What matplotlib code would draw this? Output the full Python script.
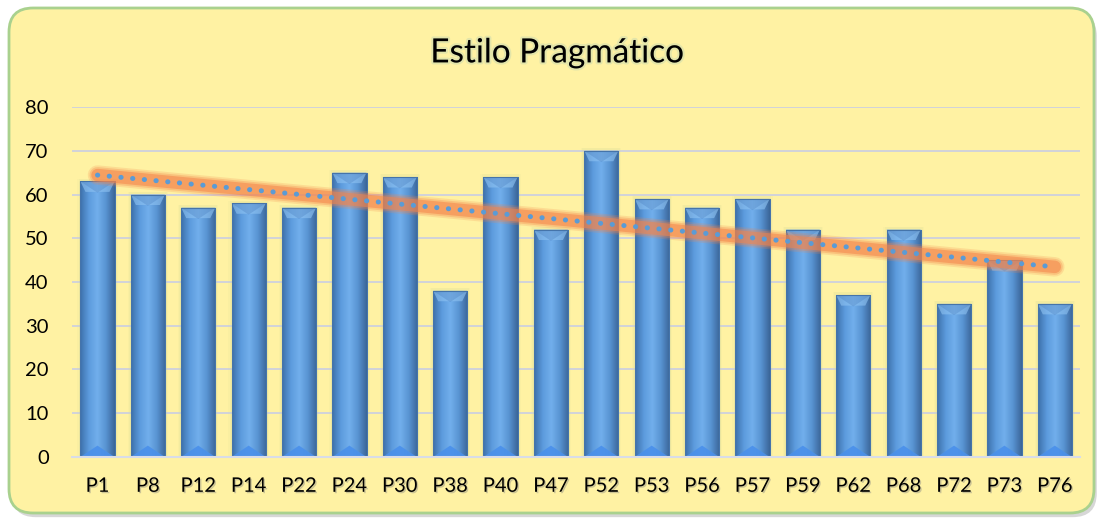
import numpy as np
import matplotlib.pyplot as plt
from matplotlib.patches import FancyBboxPatch
from matplotlib.colors import LinearSegmentedColormap
import matplotlib.patheffects as pe

categories = ['P1', 'P8', 'P12', 'P14', 'P22', 'P24', 'P30', 'P38', 'P40', 'P47',
              'P52', 'P53', 'P56', 'P57', 'P59', 'P62', 'P68', 'P72', 'P73', 'P76']
values = [63, 60, 57, 58, 57, 65, 64, 38, 64, 52,
          70, 59, 57, 59, 52, 37, 52, 35, 45, 35]
yticks = [0, 10, 20, 30, 40, 50, 60, 70, 80]
title = 'Estilo Pragmático'

bg = '#fff2a3'
plt.rcParams['font.family'] = ['Lato', 'DejaVu Sans']

fig = plt.figure(figsize=(10.97, 5.18), dpi=100)
fig.patch.set_facecolor('white')

# rounded frame on a background axes in pixel units
bgax = fig.add_axes([0, 0, 1, 1], zorder=-1)
bgax.set_xlim(0, 1097)
bgax.set_ylim(0, 518)
bgax.axis('off')
frame = FancyBboxPatch((9, 5), 1085, 505, boxstyle='round,pad=0,rounding_size=24',
                       facecolor=bg, edgecolor='#a9d18e', linewidth=2)
frame.set_path_effects([pe.SimplePatchShadow(offset=(2, -3), shadow_rgbFace='#b0b0b0', alpha=0.5), pe.Normal()])
bgax.add_patch(frame)

ax = fig.add_axes([0.0659, 0.1178, 0.9186, 0.6756])
ax.set_facecolor('none')

x = np.arange(len(categories))
# soft glow behind bars
for gw, ga in [(0.80, 0.12), (0.75, 0.18)]:
    ax.bar(x, np.array(values) + 0.6, width=gw, color='#d8dc9a', alpha=ga, zorder=2, lw=0)
bars = ax.bar(x, values, width=0.68, color='#4f8bd0', zorder=3)

# horizontal gradient on each bar
cmap = LinearSegmentedColormap.from_list('barg', ['#3d71ab', '#5c9bdd', '#72afec', '#5893d2', '#3b6699'])
grad = np.linspace(0, 1, 64).reshape(1, -1)
for b in bars:
    x0, w, h = b.get_x(), b.get_width(), b.get_height()
    im = ax.imshow(grad, cmap=cmap, aspect='auto', extent=(x0, x0 + w, 0, h), zorder=4)
    im.set_clip_path(b)
    # bevel top
    ax.fill([x0, x0 + w, x0 + w * 0.85, x0 + w * 0.15], [h, h, h - 2.4, h - 2.4], color='#8fc3f2', alpha=0.6, zorder=5, lw=0)
    ax.fill([x0, x0 + w, x0 + w / 2], [h, h, h - 2.6], color='#4a7fbf', alpha=0.35, zorder=5, lw=0)
    ax.fill([x0, x0 + w, x0 + w / 2], [0, 0, 2.6], color='#4a90ea', alpha=0.9, zorder=5, lw=0)
    ax.plot([x0, x0 + w, x0 + w, x0, x0], [0, 0, h, h, 0], color='#4574aa', lw=0.8, zorder=6)

# linear trend line
coef = np.polyfit(x, values, 1)
trend = np.polyval(coef, x)
for lw, a in [(14, 0.2), (11.5, 0.3), (9, 0.55)]:
    ax.plot(x, trend, color='#f4844a', lw=lw, alpha=a, solid_capstyle='round', zorder=7)
ax.plot(x, trend, color='#5b9bd5', lw=3.6, linestyle=(0, (0.05, 2.3)), dash_capstyle='round', zorder=8)

ax.set_xlim(-0.5, len(categories) - 0.5)
ax.set_ylim(0, 80)
ax.set_yticks(yticks)
ax.set_xticks(x)
ax.set_xticklabels(categories)
ax.yaxis.grid(True, color='#c9cde3', lw=1.2, zorder=1)
ax.set_axisbelow(True)
for s in ['top', 'right', 'left']:
    ax.spines[s].set_visible(False)
ax.spines['bottom'].set_color('#d8dce8')
ax.spines['bottom'].set_linewidth(1.5)
ax.spines['bottom'].set_zorder(9)
ax.tick_params(length=0, labelsize=14.5, colors='black')
ax.tick_params(axis='x', pad=15)
ax.tick_params(axis='y', pad=17)
for lab in ax.get_xticklabels():
    lab.set_path_effects([pe.withSimplePatchShadow(offset=(1, -1), shadow_rgbFace='#808080', alpha=0.4)])

t = fig.text(0.508, 0.897, title, ha='center', va='center', fontsize=24, color='black')
t.set_path_effects([pe.withStroke(linewidth=3, foreground='#c9d9b0', alpha=0.5)])

fig.savefig('out.png', dpi=100, facecolor='white')
